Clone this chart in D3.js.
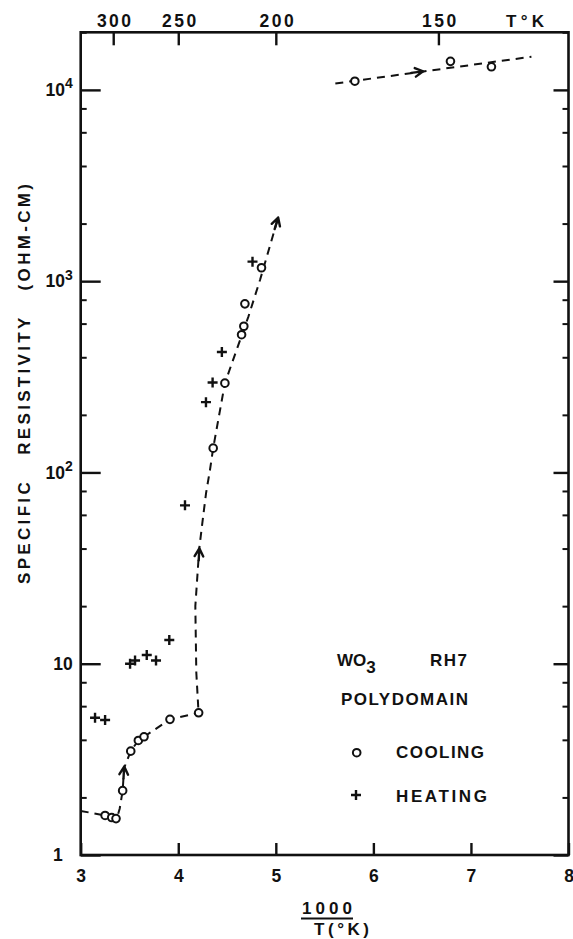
<!DOCTYPE html>
<html>
<head>
<meta charset="utf-8">
<script src="https://cdnjs.cloudflare.com/ajax/libs/d3/7.8.5/d3.min.js"></script>
<style>
  body { margin: 0; background: #fff; }
  svg { display: block; }
  text { font-family: "Liberation Sans", Arial, sans-serif; font-weight: bold; fill: #111; }
  .tick text { font-size: 17.5px; }
  .lbl { font-size: 17px; }
</style>
</head>
<body>
<div id="chart"></div>
<script>
// cooling run: x = 1000/T, y = resistivity (ohm-cm)
var coolX = [3.25, 3.318, 3.362, 3.43, 3.513, 3.591, 3.649, 3.915, 4.209, 4.358, 4.478, 4.649, 4.672, 4.683, 4.853, 5.81, 6.79, 7.21];
var coolY = [1.61, 1.57, 1.55, 2.17, 3.49, 3.97, 4.15, 5.12, 5.54, 134, 293, 525, 581, 761, 1175, 11100, 14100, 13200];
// heating run
var heatX = [3.147, 3.25, 3.506, 3.557, 3.677, 3.772, 3.908, 4.069, 4.284, 4.352, 4.447, 4.761];
var heatY = [5.22, 5.08, 10.0, 10.4, 11.1, 10.4, 13.3, 67.3, 233, 295, 426, 1265];

// dashed guide curves drawn by hand on the original
var guideLowX = [3.0, 3.25, 3.32, 3.37, 3.40, 3.43, 3.445, 3.513, 3.591, 3.649, 3.915, 4.209];
var guideLowY = [1.70, 1.61, 1.57, 1.55, 1.75, 2.17, 2.85, 3.49, 3.97, 4.15, 5.12, 5.54];
var guideMidX = [4.205, 4.185, 4.175, 4.215, 4.257, 4.285, 4.325, 4.358, 4.478, 4.60, 4.718, 4.838, 5.024];
var guideMidY = [5.9, 9, 20, 40, 60, 78, 103, 134, 293, 440, 651, 1014, 2150];
var guideTopX = [5.61, 7.62];
var guideTopY = [10800, 14900];

// arrow heads (tip and a point behind it on the curve)
var arrowTipX = [3.446, 4.216, 5.024, 6.51];
var arrowTipY = [2.9, 40.1, 2150, 12500];
var arrowTailX = [3.435, 4.200, 4.97, 6.30];
var arrowTailY = [2.35, 28, 1750, 12100];

// axis ticks
var xTicks = [3, 4, 5, 6, 7, 8];
var tempTicks = [300, 250, 200, 150];
var yMajor = [1, 10, 100, 1000, 10000];
var yMinorMult = [2, 4, 6, 8];

var width = 573, height = 939;

var svg = d3.select('#chart')
  .append('svg')
  .attr('width', width)
  .attr('height', height);

svg.append('rect').attr('width', width).attr('height', height).attr('fill', '#fff');

var x = d3.scaleLinear().domain([3, 8]).range([80.7, 568.5]);
var y = d3.scaleLog().domain([1, 20000]).range([855, 32.3]);

var yMinor = [];
yMajor.forEach(function(d) {
  yMinorMult.forEach(function(m) {
    if (d * m <= 20000) yMinor.push(d * m);
  });
});

function styleAxis(g, w) {
  g.select('.domain').remove();
  g.selectAll('line').attr('stroke', '#111').attr('stroke-width', w);
  g.attr('font-family', null).attr('font-size', null);
}

// left axis, major + minor
var gL = svg.append('g')
  .attr('transform', 'translate(' + x(3) + ',0)')
  .call(d3.axisLeft(y).tickValues(yMajor).tickSizeInner(-20).tickSizeOuter(0).tickPadding(8).tickFormat(''))
  .call(styleAxis, 2.4);

gL.selectAll('.tick text').each(function(d) {
  var t = d3.select(this);
  var p = Math.round(Math.log10(d));
  if (p === 0) {
    t.text('1').attr('dx', -10);
  } else if (p === 1) {
    t.text('10');
  } else {
    t.text('10');
    t.append('tspan').attr('dy', '-0.55em').attr('font-size', '14px').text(p);
  }
});

svg.append('g')
  .attr('transform', 'translate(' + x(3) + ',0)')
  .call(d3.axisLeft(y).tickValues(yMinor).tickSizeInner(-6).tickSizeOuter(0).tickFormat(''))
  .call(styleAxis, 2);

// right axis
svg.append('g')
  .attr('transform', 'translate(' + x(8) + ',0)')
  .call(d3.axisRight(y).tickValues(yMajor).tickSizeInner(-15).tickSizeOuter(0).tickFormat(''))
  .call(styleAxis, 2.4);
svg.append('g')
  .attr('transform', 'translate(' + x(8) + ',0)')
  .call(d3.axisRight(y).tickValues(yMinor).tickSizeInner(-6).tickSizeOuter(0).tickFormat(''))
  .call(styleAxis, 2);

// bottom axis
svg.append('g')
  .attr('transform', 'translate(0,' + y(1) + ')')
  .call(d3.axisBottom(x).tickValues(xTicks).tickSizeInner(-12).tickSizeOuter(0).tickPadding(15).tickFormat(d3.format('d')))
  .call(styleAxis, 2.4);

// top axis in temperature
svg.append('g')
  .attr('transform', 'translate(0,' + y(20000) + ')')
  .call(d3.axisTop(x).tickValues(tempTicks.map(function(t) { return 1000 / t; }))
    .tickSizeInner(-13).tickSizeOuter(0).tickPadding(5)
    .tickFormat(function(d, i) { return tempTicks[i]; }))
  .call(styleAxis, 2.4)
  .selectAll('text').attr('letter-spacing', 2.5).attr('dx', 1.5);

svg.append('text').attr('class', 'lbl')
  .attr('x', 506).attr('y', 27)
  .attr('textLength', 38).attr('lengthAdjust', 'spacing')
  .text('T°K');

// frame
svg.append('rect')
  .attr('x', x(3)).attr('y', y(20000))
  .attr('width', x(8) - x(3)).attr('height', y(1) - y(20000))
  .attr('fill', 'none').attr('stroke', '#111').attr('stroke-width', 2.6);

// axis titles
svg.append('text').attr('class', 'lbl')
  .attr('transform', 'translate(30,384) rotate(-90)')
  .attr('text-anchor', 'middle')
  .attr('textLength', 400).attr('lengthAdjust', 'spacing')
  .style('white-space', 'pre')
  .text('SPECIFIC   RESISTIVITY   (OHM-CM)');

svg.append('text').attr('class', 'lbl')
  .attr('x', 302).attr('y', 914)
  .attr('textLength', 50).attr('lengthAdjust', 'spacing')
  .text('1000');
svg.append('line')
  .attr('x1', 301).attr('x2', 353).attr('y1', 918.5).attr('y2', 918.5)
  .attr('stroke', '#111').attr('stroke-width', 2);
svg.append('text').attr('class', 'lbl')
  .attr('x', 314).attr('y', 935)
  .attr('textLength', 55).attr('lengthAdjust', 'spacing')
  .text('T(°K)');

// dashed guides
var line = d3.line()
  .x(function(d) { return x(d[0]); })
  .y(function(d) { return y(d[1]); });

[[guideLowX, guideLowY], [guideMidX, guideMidY], [guideTopX, guideTopY]].forEach(function(g) {
  svg.append('path')
    .datum(d3.zip(g[0], g[1]))
    .attr('d', line)
    .attr('fill', 'none')
    .attr('stroke', '#111')
    .attr('stroke-width', 2)
    .attr('stroke-dasharray', '8,6');
});

// arrow heads
svg.append('g')
  .selectAll('path')
  .data(d3.range(arrowTipX.length))
  .enter().append('path')
  .attr('d', function(i) {
    var tx = x(arrowTipX[i]), ty = y(arrowTipY[i]);
    var bx = x(arrowTailX[i]), by = y(arrowTailY[i]);
    var a = Math.atan2(ty - by, tx - bx), L = 9, s = 0.5;
    return 'M' + (tx - 12 * Math.cos(a)) + ',' + (ty - 12 * Math.sin(a)) + 'L' + tx + ',' + ty +
      'M' + (tx - L * Math.cos(a - s)) + ',' + (ty - L * Math.sin(a - s)) + 'L' + tx + ',' + ty +
      'L' + (tx - L * Math.cos(a + s)) + ',' + (ty - L * Math.sin(a + s));
  })
  .attr('fill', 'none')
  .attr('stroke', '#111')
  .attr('stroke-width', 2.4)
  .attr('stroke-linecap', 'round')
  .attr('stroke-linejoin', 'round');

// heating points
svg.append('g')
  .selectAll('path')
  .data(d3.zip(heatX, heatY))
  .enter().append('path')
  .attr('d', function(d) {
    var px = x(d[0]), py = y(d[1]);
    return 'M' + (px - 5) + ',' + py + 'H' + (px + 5) + 'M' + px + ',' + (py - 5) + 'V' + (py + 5);
  })
  .attr('stroke', '#111')
  .attr('stroke-width', 2.4);

// cooling points
svg.append('g')
  .selectAll('circle')
  .data(d3.zip(coolX, coolY))
  .enter().append('circle')
  .attr('cx', function(d) { return x(d[0]); })
  .attr('cy', function(d) { return y(d[1]); })
  .attr('r', 3.8)
  .attr('fill', '#fff')
  .attr('stroke', '#111')
  .attr('stroke-width', 2);

// legend
var leg = svg.append('g');
var wo = leg.append('text').attr('class', 'lbl').attr('x', 337).attr('y', 666);
wo.append('tspan').text('WO');
wo.append('tspan').attr('dy', 7).text('3');
leg.append('text').attr('class', 'lbl').attr('x', 430).attr('y', 666)
  .attr('textLength', 37).attr('lengthAdjust', 'spacing').text('RH7');
leg.append('text').attr('class', 'lbl').attr('x', 341).attr('y', 705)
  .attr('textLength', 127).attr('lengthAdjust', 'spacing').text('POLYDOMAIN');
leg.append('circle').attr('cx', 356.7).attr('cy', 752.7).attr('r', 3.8)
  .attr('fill', '#fff').attr('stroke', '#111').attr('stroke-width', 2);
leg.append('text').attr('class', 'lbl').attr('x', 396).attr('y', 758)
  .attr('textLength', 88).attr('lengthAdjust', 'spacing').text('COOLING');
leg.append('path').attr('d', 'M351,795H361M356,790V800')
  .attr('stroke', '#111').attr('stroke-width', 2.4);
leg.append('text').attr('class', 'lbl').attr('x', 396).attr('y', 802)
  .attr('textLength', 91).attr('lengthAdjust', 'spacing').text('HEATING');
</script>
</body>
</html>
